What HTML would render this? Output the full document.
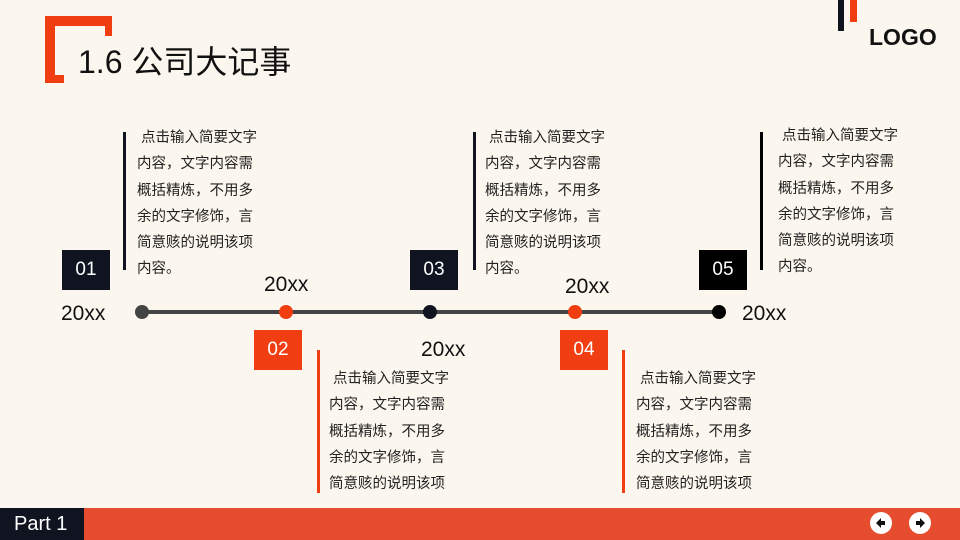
<!DOCTYPE html>
<html><head><meta charset="utf-8">
<style>
*{margin:0;padding:0;box-sizing:border-box}
body{width:960px;height:540px;overflow:hidden;background:#fcf7ee;position:relative;font-family:"Liberation Sans","Noto Sans CJK SC",sans-serif;}
.a{position:absolute}
.box{position:absolute;width:48px;height:40px;color:#fff;font-size:19px;text-align:center;line-height:40px}
.d{background:#0f1420}
.o{background:#f03e12}
.yr{position:absolute;font-size:21px;color:#111;line-height:24px}
.txt{position:absolute;font-size:14.5px;line-height:26.3px;color:#222;white-space:nowrap}
.dot{position:absolute;width:14px;height:14px;border-radius:50%;top:305px}
</style></head><body>
<div class="a" style="left:45px;top:16px;width:10px;height:67px;background:#f03e12"></div>
<div class="a" style="left:45px;top:16px;width:67px;height:10px;background:#f03e12"></div>
<div class="a" style="left:105px;top:16px;width:7px;height:20px;background:#f03e12"></div>
<div class="a" style="left:45px;top:75px;width:19px;height:8px;background:#f03e12"></div>
<div class="a" style="left:78px;top:43px;font-size:32px;color:#111;line-height:38px">1.6 公司大记事</div>
<div class="a" style="left:838px;top:0;width:6px;height:31px;background:#0f1420"></div>
<div class="a" style="left:850px;top:0;width:7px;height:22px;background:#f03e12"></div>
<div class="a" style="left:869px;top:24px;font-size:23px;font-weight:bold;color:#111;line-height:26px">LOGO</div>
<div class="a" style="left:142px;top:310px;width:577px;height:4px;background:#444"></div>
<div class="dot" style="left:135px;background:#444"></div>
<div class="dot" style="left:279px;background:#f03e12"></div>
<div class="dot" style="left:423px;background:#0f1420"></div>
<div class="dot" style="left:568px;background:#f03e12"></div>
<div class="dot" style="left:712px;background:#000"></div>
<div class="box d" style="left:62px;top:250px">01</div>
<div class="box d" style="left:410px;top:250px">03</div>
<div class="box" style="left:699px;top:250px;background:#000">05</div>
<div class="box o" style="left:254px;top:330px">02</div>
<div class="box o" style="left:560px;top:330px">04</div>
<div class="yr" style="left:61px;top:302px">20xx</div>
<div class="yr" style="left:264px;top:273px">20xx</div>
<div class="yr" style="left:421px;top:338px">20xx</div>
<div class="yr" style="left:565px;top:275px">20xx</div>
<div class="yr" style="left:742px;top:302px">20xx</div>
<div class="a" style="left:123px;top:132px;width:3px;height:138px;background:#0f1420"></div>
<div class="txt" style="left:137px;top:125px">&nbsp;点击输入简要文字<br>内容，文字内容需<br>概括精炼，不用多<br>余的文字修饰，言<br>简意赅的说明该项<br>内容。</div>
<div class="a" style="left:473px;top:132px;width:3px;height:138px;background:#0f1420"></div>
<div class="txt" style="left:485px;top:125px">&nbsp;点击输入简要文字<br>内容，文字内容需<br>概括精炼，不用多<br>余的文字修饰，言<br>简意赅的说明该项<br>内容。</div>
<div class="a" style="left:760px;top:132px;width:3px;height:138px;background:#000"></div>
<div class="txt" style="left:778px;top:123px">&nbsp;点击输入简要文字<br>内容，文字内容需<br>概括精炼，不用多<br>余的文字修饰，言<br>简意赅的说明该项<br>内容。</div>
<div class="a" style="left:317px;top:350px;width:3px;height:143px;background:#f03e12"></div>
<div class="txt" style="left:329px;top:366px">&nbsp;点击输入简要文字<br>内容，文字内容需<br>概括精炼，不用多<br>余的文字修饰，言<br>简意赅的说明该项</div>
<div class="a" style="left:622px;top:350px;width:3px;height:143px;background:#f03e12"></div>
<div class="txt" style="left:636px;top:366px">&nbsp;点击输入简要文字<br>内容，文字内容需<br>概括精炼，不用多<br>余的文字修饰，言<br>简意赅的说明该项</div>
<div class="a" style="left:0;top:508px;width:960px;height:32px;background:#e64c2e"></div>
<div class="a" style="left:0;top:508px;width:84px;height:32px;background:#0f1420;color:#fff;font-size:20px;line-height:32px;padding-left:14px">Part 1</div>
<svg class="a" style="left:868px;top:511px" width="66" height="26">
<circle cx="13" cy="12" r="11" fill="#fff"/>
<path d="M8 12 L13 7 L13 10 L17 10 L17 14 L13 14 L13 17 Z" fill="#111"/>
<circle cx="52" cy="12" r="11" fill="#fff"/>
<path d="M57 12 L52 7 L52 10 L48 10 L48 14 L52 14 L52 17 Z" fill="#111"/>
</svg>
</body></html>
